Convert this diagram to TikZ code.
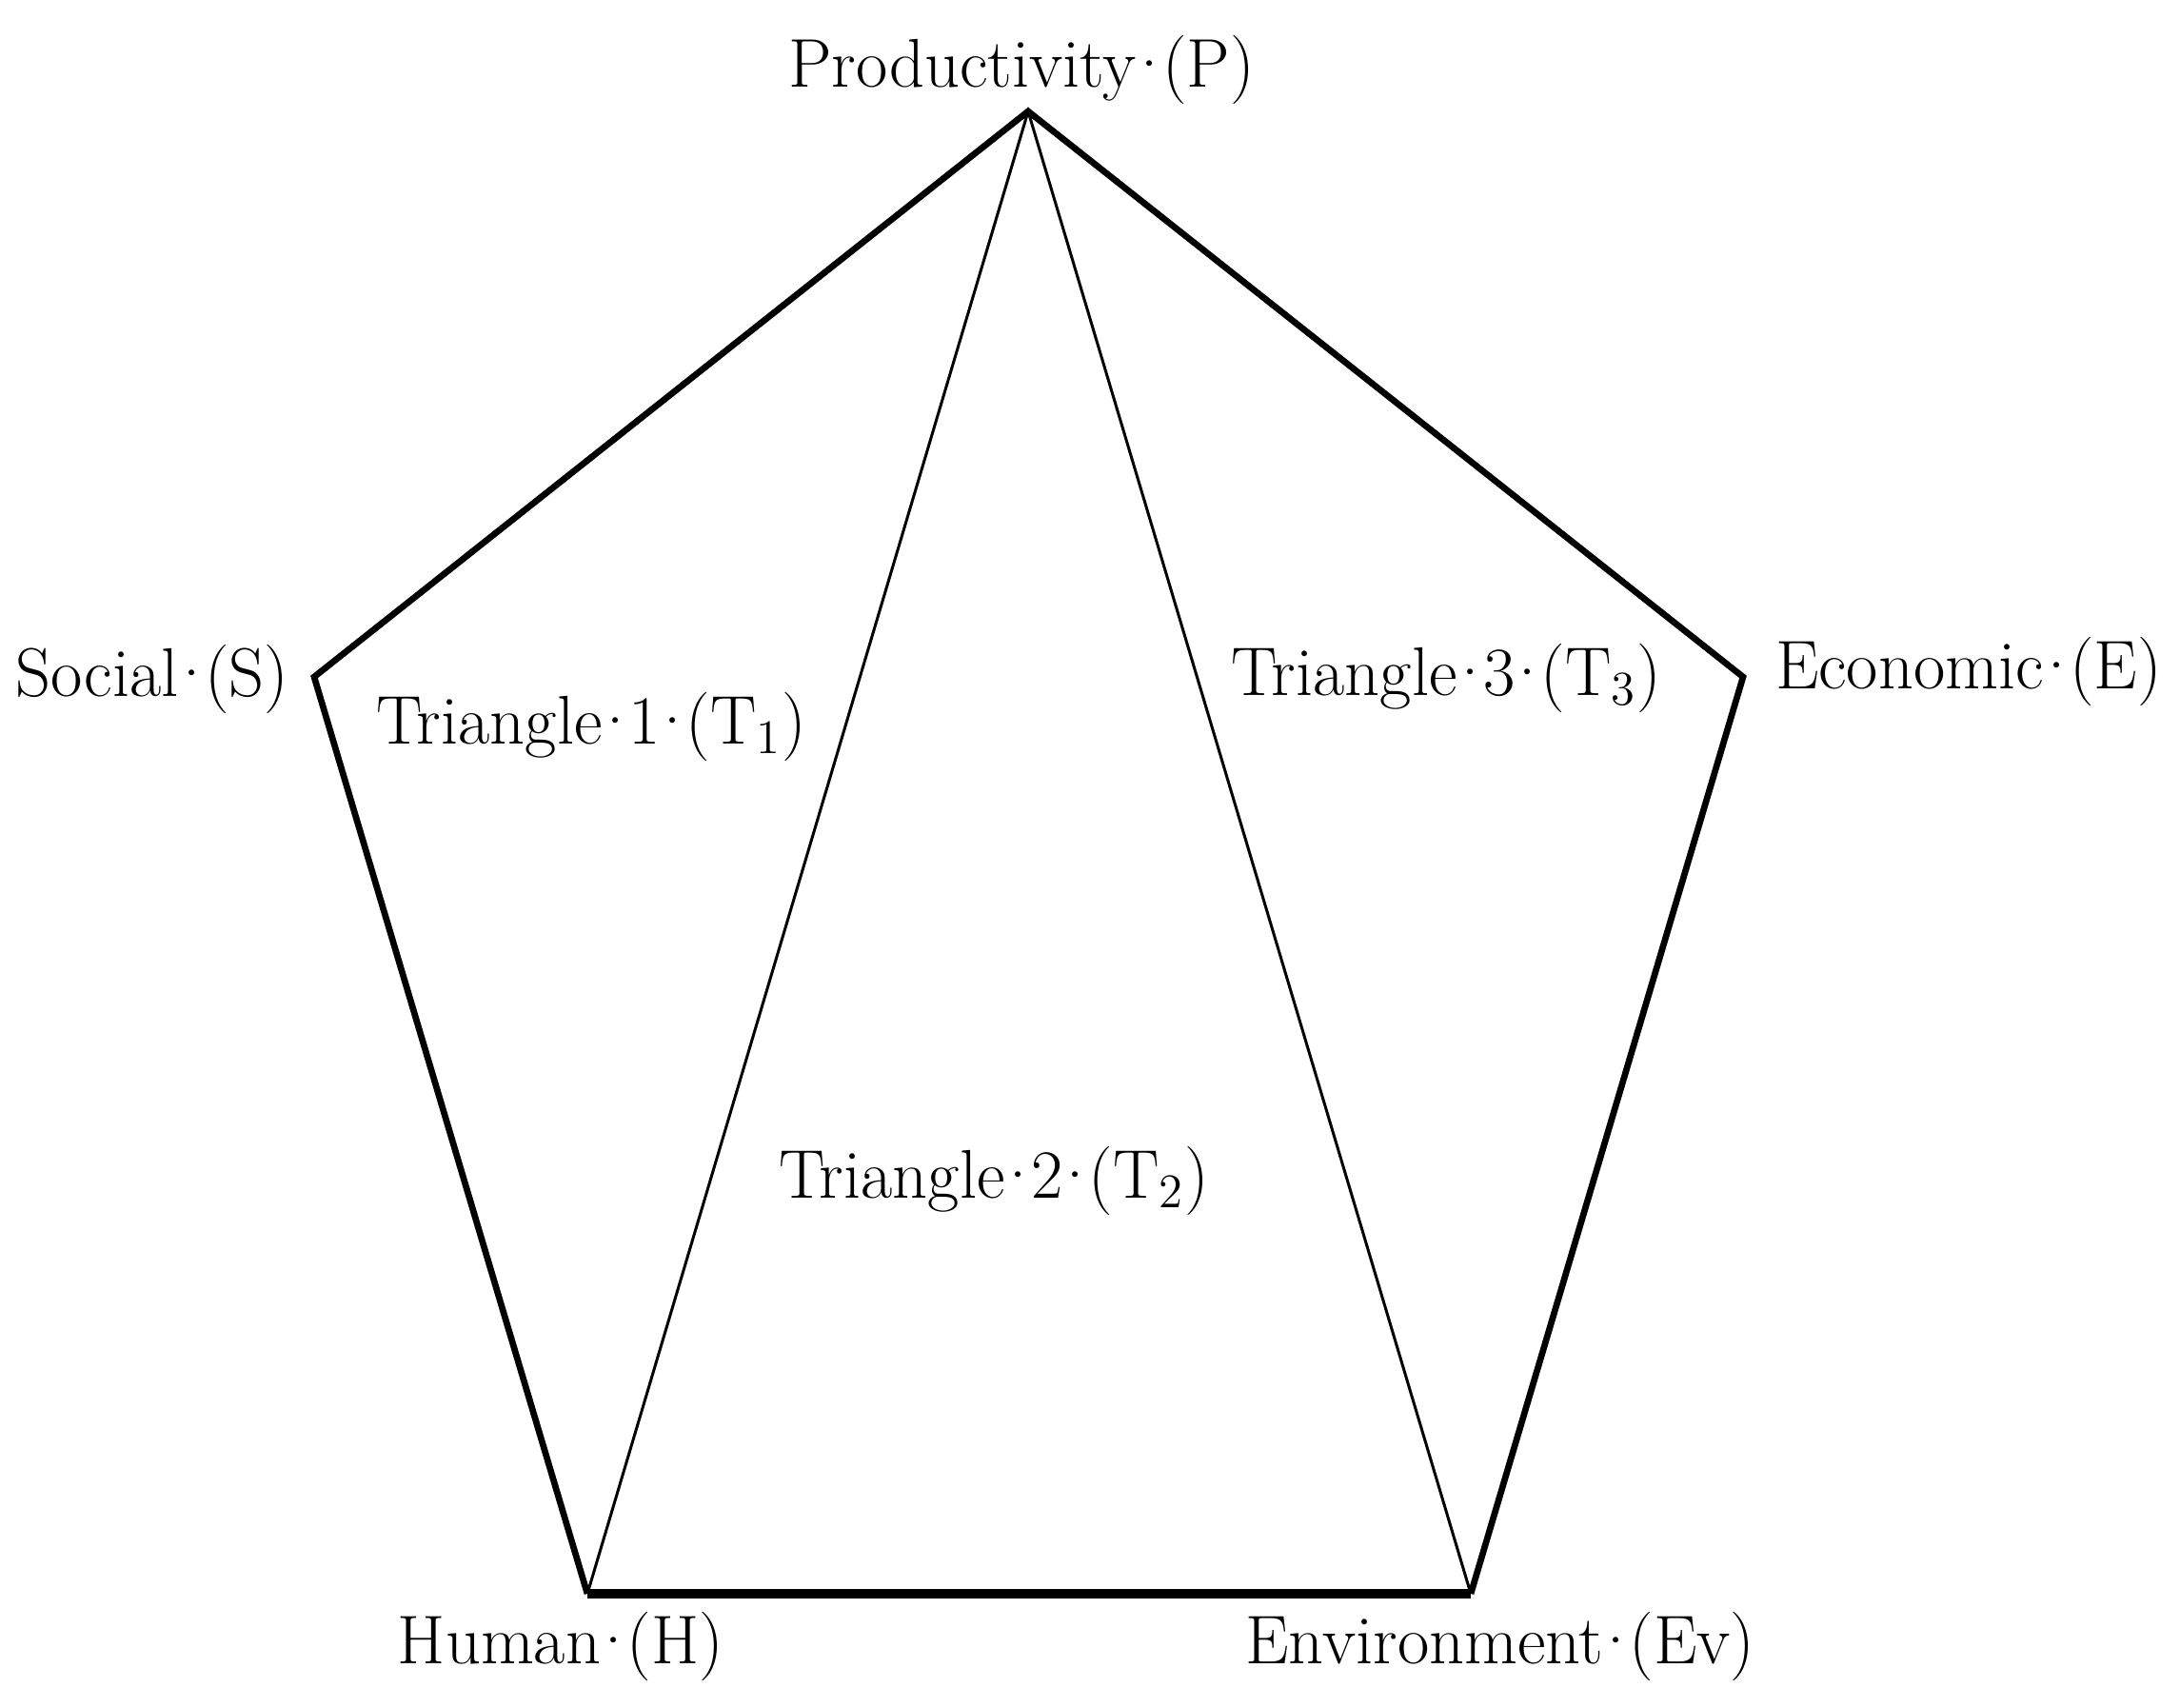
\documentclass[tikz,border=0pt]{standalone}
\usepackage{fontspec}
\usepackage{tikz}

\newcommand{\md}{\kern-.17em·\kern-.17em}

\tikzset{
  side/.style={line width=1.9pt,line join=miter},
  base/.style={line width=2.6pt},
  diag/.style={line width=0.85pt},
  tag/.style={inner sep=0pt,font=\fontsize{20.6}{24}\selectfont}
}

\begin{document}
\begin{tikzpicture}
        \useasboundingbox (0,0) rectangle (22.9,17.93);
        \coordinate (P) at (10.80,16.76);
        \coordinate (S) at (3.30,10.82);
        \coordinate (E) at (18.31,10.82);
        \coordinate (H) at (6.17,1.19);
        \coordinate (Ev) at (15.45,1.19);

        \draw[side] (H) -- (S) -- (P) -- (E) -- (Ev);
        \draw[base] (H) -- (Ev);
        \draw[diag] (H) -- (P) -- (Ev);

        \node[tag] (lblP) at (10.73,17.2) {Productivity\md(P)};
        \node[tag] (lblS) at (1.60,10.8) {Social\md(S)};
        \node[tag] (lblE) at (20.68,10.88) {Economic\md(E)};
        \node[tag] (lblH) at (5.89,0.64) {Human\md(H)};
        \node[tag] (lblEv) at (15.76,0.64) {Environment\md(Ev)};

        \node[tag] (tri1) at (6.21,10.30) {Triangle\md1\md(T\textsubscript{1})};
        \node[tag] (tri2) at (10.44,5.53) {Triangle\md2\md(T\textsubscript{2})};
        \node[tag] (tri3) at (15.19,10.81) {Triangle\md3\md(T\textsubscript{3})};
      \end{tikzpicture}
\end{document}
